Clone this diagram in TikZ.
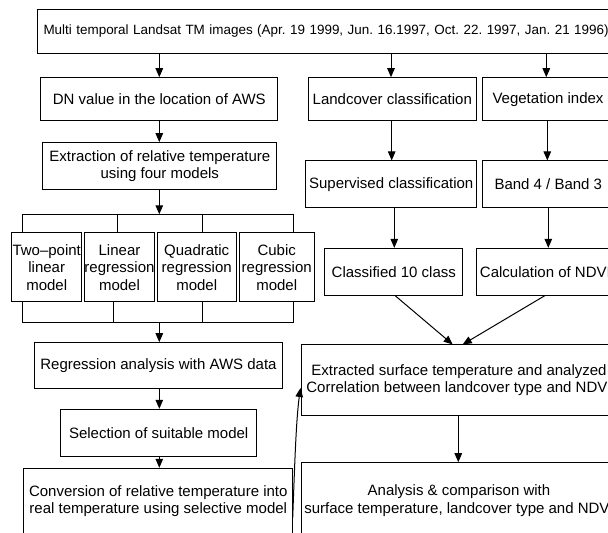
\documentclass[tikz,border=0pt]{standalone}
\usepackage{fontspec}
\setmainfont{Liberation Sans}
\usetikzlibrary{arrows.meta}
\begin{document}
\begin{tikzpicture}[x=1pt,y=-1pt,
  box/.style={draw, line width=1pt, inner sep=0pt, align=center, font=\fontsize{15}{17.5}\selectfont\frenchspacing},
  ln/.style={line width=1pt},
  arr/.style={line width=1pt, -{Triangle[length=9pt,width=7.5pt]}}]
\clip (0,0) rectangle (608,533);
\useasboundingbox (0,0) rectangle (608,533);
% top
\node[box, font=\fontsize{13.45}{16}\selectfont\frenchspacing, anchor=west, minimum height=44pt, inner xsep=6.3pt, text width=600pt, align=left] (top) at (36.7,31.3) {Multi temporal Landsat TM images (Apr. 19 1999, Jun. 16.1997, Oct. 22. 1997, Jan. 21 1996)};
% second row
\node[box, minimum width=236.7pt, minimum height=43pt] (dn) at (159.3,99.2) {DN value in the location of AWS};
\node[box, minimum width=168pt, minimum height=43pt] (land) at (392.3,99.2) {Landcover classification};
\node[box, minimum width=132pt, minimum height=43pt] (veg) at (548,99.2) {Vegetation index};
% left column
\node[box, minimum width=234.3pt, minimum height=47.3pt] (ext) at (159.8,166.3) {Extraction of relative temperature\\using four models};
\node[box, minimum width=70pt, minimum height=69pt] (m1) at (46.7,267.2) {Two--point\\linear\\model};
\node[box, minimum width=69pt, minimum height=69pt] (m2) at (119.5,267.2) {Linear\\regression\\model};
\node[box, minimum width=78.7pt, minimum height=69pt] (m3) at (196.7,267.2) {Quadratic\\regression\\model};
\node[box, minimum width=75.3pt, minimum height=69pt] (m4) at (276.7,267.2) {Cubic\\regression\\model};
\node[box, minimum width=248.4pt, minimum height=45.6pt] (reg) at (158.5,365.5) {Regression analysis with AWS data};
\node[box, minimum width=196pt, minimum height=47.4pt] (sel) at (158.7,433) {Selection of suitable model};
\node[box, minimum width=268.7pt, minimum height=66pt] (conv) at (158.3,501.3) {Conversion of relative temperature into\\real temperature using selective model};
% right column
\node[box, minimum width=171pt, minimum height=46.7pt] (sup) at (391.2,184.3) {Supervised classification};
\node[box, minimum width=131.3pt, minimum height=46.7pt] (band) at (548.3,184.3) {Band 4 / Band 3};
\node[box, minimum width=137.7pt, minimum height=46.7pt] (cls) at (393.8,271.7) {Classified 10 class};
\node[box, minimum width=137.3pt, minimum height=46.7pt] (calc) at (545.4,271.7) {Calculation of NDVI};
\node[box, minimum width=316pt, minimum height=70.7pt] (extr) at (459,380.3) {Extracted surface temperature and analyzed\\Correlation between landcover type and NDVI};
\node[box, minimum width=316pt, minimum height=75.6pt] (ana) at (459,500.5) {Analysis \& comparison with\\surface temperature, landcover type and NDVI};
% arrows from top
\draw[arr] (159.3,53.3) -- (dn.north -| 159.3,0);
\draw[arr] (391,53.3) -- (land.north -| 391,0);
\draw[arr] (546.3,53.3) -- (veg.north -| 546.3,0);
% left column connectors
\draw[arr] (dn.south -| 159.3,0) -- (ext.north -| 159.3,0);
\coordinate (bus1) at (159.3,214.3);
\draw[arr] (ext.south -| 159.3,0) -- (bus1);
\draw[ln] (22.7,214.3) -- (293.3,214.3);
\draw[ln] (22.7,214.3) -- (m1.north -| 22.7,0);
\draw[ln] (117.3,214.3) -- (m2.north -| 117.3,0);
\draw[ln] (202,214.3) -- (m3.north -| 202,0);
\draw[ln] (293.3,214.3) -- (m4.north -| 293.3,0);
\coordinate (bus2) at (159.3,322.7);
\draw[ln] (m1.south -| 22.7,0) -- (22.7,322.7);
\draw[ln] (m2.south -| 113.3,0) -- (113.3,322.7);
\draw[ln] (m3.south -| 202,0) -- (202,322.7);
\draw[ln] (m4.south -| 293.3,0) -- (293.3,322.7);
\draw[ln] (22.7,322.7) -- (293.3,322.7);
\draw[arr] (bus2) -- (reg.north -| 159.3,0);
\draw[arr] (reg.south -| 159.3,0) -- (sel.north -| 159.3,0);
\draw[arr] (sel.south -| 159.3,0) -- (conv.north -| 159.3,0);
% right column connectors
\draw[arr] (land.south -| 391.7,0) -- (sup.north -| 391.7,0);
\draw[arr] (veg.south -| 547.3,0) -- (band.north -| 547.3,0);
\draw[arr] (sup.south -| 394.3,0) -- (cls.north -| 394.3,0);
\draw[arr] (band.south -| 548.3,0) -- (calc.north -| 548.3,0);
\draw[arr] (cls.south -| 395,0) -- (extr.north -| 452.7,0);
\draw[arr] (calc.south -| 545,0) -- (extr.north -| 462.7,0);
\draw[arr] (extr.south -| 458.3,0) -- (ana.north -| 458.3,0);
% curved connector
\coordinate (cs) at (292.7,518);
\draw[arr] (cs) .. controls (294.5,470) and (296,420) .. ([yshift=-7.7pt]extr.west);
\end{tikzpicture}
\end{document}
